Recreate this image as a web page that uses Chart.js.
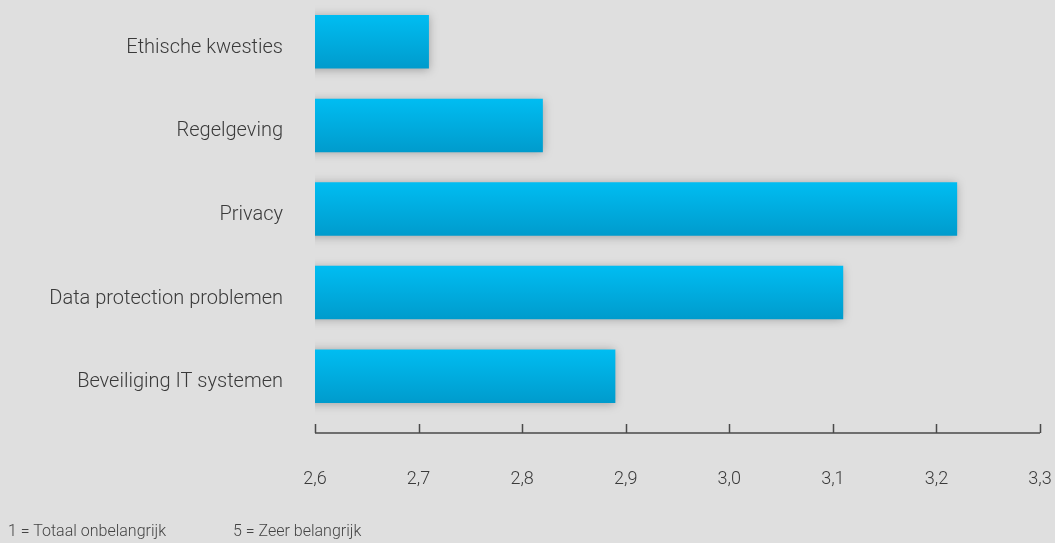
<!DOCTYPE html>
<html>
<head>
<meta charset="utf-8">
<script src="https://cdn.jsdelivr.net/npm/chart.js@4.4.0/dist/chart.umd.min.js"></script>
<style>
  html, body { margin: 0; padding: 0; background: #dfdfdf; }
  #wrap { position: relative; width: 1055px; height: 543px; }
  .note { position: absolute; top: 521px; font-family: Roboto, sans-serif; font-weight: 300; font-size: 16px; color: #444; }
</style>
</head>
<body>
<div id="wrap">
  <canvas id="chart" width="1055" height="543"></canvas>
  <div class="note" style="left:8px">1 = Totaal onbelangrijk</div>
  <div class="note" style="left:233px">5 = Zeer belangrijk</div>
</div>
<script>
var categories = ['Ethische kwesties', 'Regelgeving', 'Privacy', 'Data protection problemen', 'Beveiliging IT systemen'];
var scores = [2.71, 2.82, 3.22, 3.11, 2.89];
var tickValues = [2.6, 2.7, 2.8, 2.9, 3.0, 3.1, 3.2, 3.3];

// bar fill, light blue on top to darker at the bottom of each bar
function barFill(c) {
    var chart = c.chart;
    if (!chart.chartArea || c.dataIndex === undefined) return '#00b0e4';
    var y = chart.scales.y.getPixelForValue(c.dataIndex);
    var g = chart.ctx.createLinearGradient(0, y - 27, 0, y + 27);
    g.addColorStop(0, '#00bdf2');
    g.addColorStop(1, '#009bcc');
    return g;
}

var shadowPlugin = {
    id: 'barShadow',
    beforeDatasetsDraw: function(chart) {
        var ctx = chart.ctx;
        ctx.save();
        ctx.shadowColor = 'rgba(0,0,0,0.28)';
        ctx.shadowBlur = 9;
        ctx.shadowOffsetY = 1;
    },
    afterDatasetsDraw: function(chart) {
        chart.ctx.restore();
    }
};

// axis line with small upward ticks, a bit below the bars
var axisPlugin = {
    id: 'axisLine',
    afterDraw: function(chart) {
        var ctx = chart.ctx;
        var x = chart.scales.x;
        var yLine = chart.chartArea.bottom + 15;
        ctx.save();
        ctx.strokeStyle = '#4a4a4a';
        ctx.lineWidth = 1.5;
        ctx.beginPath();
        ctx.moveTo(x.getPixelForValue(tickValues[0]), yLine);
        ctx.lineTo(x.getPixelForValue(tickValues[tickValues.length - 1]), yLine);
        tickValues.forEach(function(v) {
            var px = Math.round(x.getPixelForValue(v)) + 0.5;
            ctx.moveTo(px, yLine);
            ctx.lineTo(px, yLine - 9);
        });
        ctx.stroke();
        ctx.restore();
    }
};

var ctx = document.getElementById('chart');
var myChart = new Chart(ctx, {
    type: 'bar',
    data: {
        labels: categories,
        datasets: [{
            data: scores,
            backgroundColor: barFill,
            borderWidth: 0,
            barPercentage: 0.8,
            categoryPercentage: 0.8
        }]
    },
    options: {
        indexAxis: 'y',
        responsive: false,
        animation: false,
        layout: { padding: { left: 0, right: 15, top: -2, bottom: 55 } },
        plugins: {
            legend: { display: false },
            tooltip: { enabled: false }
        },
        scales: {
            x: {
                min: 2.6,
                max: 3.3,
                afterBuildTicks: function(s) {
                    s.ticks = tickValues.map(function(v) { return { value: v }; });
                },
                afterFit: function(s) {
                    s.height = 70;
                    s.paddingLeft = 0;
                    s.paddingRight = 0;
                },
                grid: { display: false, drawTicks: false },
                border: { display: false },
                ticks: {
                    padding: 51,
                    color: '#3a3a3a',
                    font: { family: 'Roboto', size: 18, weight: 300 },
                    maxRotation: 0,
                    callback: function(v) { return v.toFixed(1).replace('.', ','); }
                }
            },
            y: {
                grid: { display: false, drawTicks: false },
                border: { display: false },
                afterFit: function(s) {
                    s.width = 315;
                    s.paddingTop = 0;
                    s.paddingBottom = 0;
                },
                ticks: {
                    padding: 32,
                    labelOffset: 6,
                    color: '#3a3a3a',
                    font: { family: 'Roboto', size: 20, weight: 300 }
                }
            }
        }
    },
    plugins: [shadowPlugin, axisPlugin]
});
</script>
</body>
</html>
